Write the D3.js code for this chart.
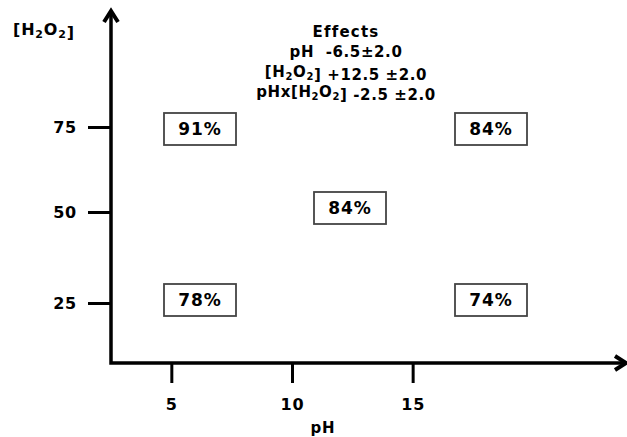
<!DOCTYPE html>
<html>
<head>
<meta charset="utf-8">
<script src="https://d3js.org/d3.v7.min.js"></script>
<style>
    body { margin: 0; background: #fff; }
    text { font-family: "DejaVu Sans", Verdana, sans-serif; font-weight: bold; fill: #000; white-space: pre; }
</style>
</head>
<body>
<div id="chart"></div>
<script>
    // data
    var phTicks = [5, 10, 15];
    var h2o2Ticks = [25, 50, 75];
    var cellPH = [5, 5, 10, 15, 15];
    var cellH2O2 = [75, 25, 50, 75, 25];
    var cellYield = [91, 78, 84, 84, 74];
    var effectNames = ["pH", "[H2O2]", "pHx[H2O2]"];
    var effectValues = [-6.5, 12.5, -2.5];
    var effectErrors = [2.0, 2.0, 2.0];

    var W = 627, H = 437;
    var svg = d3.select("#chart").append("svg")
        .attr("width", W).attr("height", H);

    var axLeft = 111, axBottom = 363, axTop = 11, axRight = 626;

    // scales
    var x = d3.scaleLinear().domain([2.5, 23.8]).range([axLeft, 625]);
    var y = d3.scaleLinear().domain([25, 50, 75]).range([303, 212, 127]);
    // the boxes sit on their own grid, a bit right of the ticks
    var xCell = d3.scaleLinear().domain([5, 10, 15]).range([200, 350, 491]);
    var yCell = d3.scaleLinear().domain([25, 50, 75]).range([300, 208, 129]);

    // x axis
    var xAxis = svg.append("g")
        .attr("transform", "translate(0," + axBottom + ")")
        .call(d3.axisBottom(x).tickValues(phTicks).tickSize(20).tickPadding(16));
    xAxis.select(".domain").remove();
    xAxis.selectAll("line").attr("stroke", "#000").attr("stroke-width", 3);
    xAxis.selectAll("text").attr("font-size", 16).attr("font-family", null)
        .attr("letter-spacing", 0.8);

    // y axis
    var yAxis = svg.append("g")
        .attr("transform", "translate(" + axLeft + ",0)")
        .call(d3.axisLeft(y).tickValues(h2o2Ticks).tickSize(23).tickPadding(11));
    yAxis.select(".domain").remove();
    yAxis.selectAll("line").attr("stroke", "#000").attr("stroke-width", 3);
    yAxis.selectAll("text").attr("font-size", 16).attr("font-family", null)
        .attr("letter-spacing", 0.8);

    // axis lines with arrows
    svg.append("path")
        .attr("d", "M" + axLeft + "," + (axTop + 2) + "V" + axBottom + "H" + (axRight - 2))
        .attr("fill", "none").attr("stroke", "#000").attr("stroke-width", 3.5);
    svg.append("path")
        .attr("d", "M" + (axLeft - 7) + "," + (axTop + 11) + "L" + axLeft + "," + axTop + "L" + (axLeft + 7) + "," + (axTop + 11))
        .attr("fill", "none").attr("stroke", "#000").attr("stroke-width", 4);
    svg.append("path")
        .attr("d", "M" + (axRight - 11) + "," + (axBottom - 7) + "L" + axRight + "," + axBottom + "L" + (axRight - 11) + "," + (axBottom + 7))
        .attr("fill", "none").attr("stroke", "#000").attr("stroke-width", 4);

    // axis titles
    svg.append("text")
        .attr("x", 323).attr("y", 433)
        .attr("text-anchor", "middle").attr("font-size", 15)
        .attr("letter-spacing", 0.8)
        .text("pH");

    // writes a label with H2O2 subscripts
    function subText(sel, str, subSize) {
        var parts = str.split(/(H2O2)/);
        parts.forEach(function (p) {
            if (p == "H2O2") {
                sel.append("tspan").text("H");
                sel.append("tspan").attr("font-size", subSize).attr("dy", 3).text("2");
                sel.append("tspan").attr("dy", -3).text("O");
                sel.append("tspan").attr("font-size", subSize).attr("dy", 3).text("2");
                sel.append("tspan").attr("dy", -3).text("");
            } else if (p.length) {
                sel.append("tspan").text(p);
            }
        });
    }

    var yTitle = svg.append("text")
        .attr("x", 13).attr("y", 35)
        .attr("font-size", 16).attr("letter-spacing", 0.8);
    subText(yTitle, "[H2O2]", 11);

    // effects block
    var ex = 346;
    svg.append("text")
        .attr("x", ex).attr("y", 37)
        .attr("text-anchor", "middle").attr("font-size", 15)
        .attr("letter-spacing", 1.2)
        .text("Effects");

    var fmt = d3.format("+.1f");
    effectNames.forEach(function (name, i) {
        var v = effectValues[i];
        var vs = (i == 0 ? "  " : " ") + (v < 0 ? "-" + Math.abs(v).toFixed(1) : fmt(v));
        var t = svg.append("text")
            .attr("x", ex).attr("y", 57 + i * 20)
            .attr("text-anchor", "middle").attr("font-size", 15)
            .attr("font-weight", 600).attr("letter-spacing", 0.6);
        subText(t, name + vs + (i == 0 ? "±" : " ±") + effectErrors[i].toFixed(1), 10);
    });

    // cells
    var cells = cellYield.map(function (v, i) {
        return { ph: cellPH[i], h: cellH2O2[i], v: v };
    });
    var bw = 72, bh = 32;
    var g = svg.selectAll(".cell").data(cells).enter().append("g")
        .attr("class", "cell")
        .attr("transform", function (d) { return "translate(" + xCell(d.ph) + "," + yCell(d.h) + ")"; });
    g.append("rect")
        .attr("x", -bw / 2).attr("y", -bh / 2)
        .attr("width", bw).attr("height", bh)
        .attr("fill", "#fff").attr("stroke", "#444").attr("stroke-width", 1.8);
    g.append("text")
        .attr("text-anchor", "middle").attr("dy", "0.36em")
        .attr("font-size", 17).attr("letter-spacing", 1)
        .text(function (d) { return d.v + "%"; });
</script>
</body>
</html>
